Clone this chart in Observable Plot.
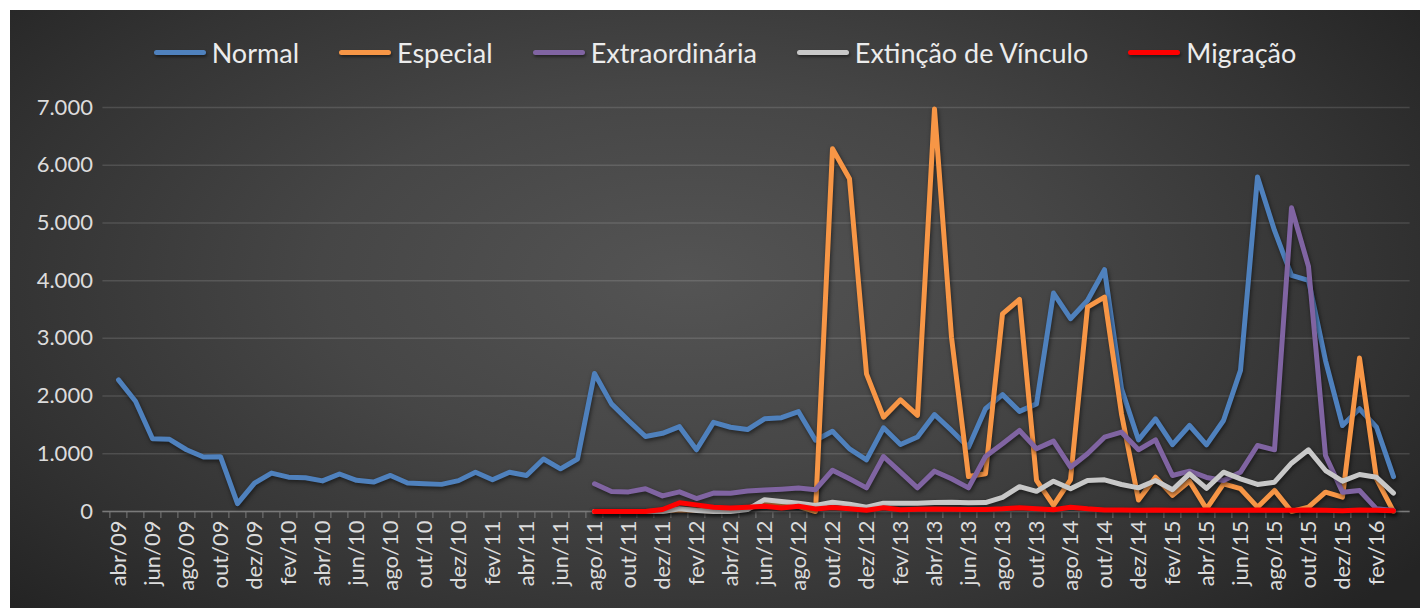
<!DOCTYPE html>
<html>
<head>
<meta charset="utf-8">
<script src="https://cdn.jsdelivr.net/npm/d3@7"></script>
<script src="https://cdn.jsdelivr.net/npm/@observablehq/plot@0.6"></script>
<style>
html,body{margin:0;padding:0;background:#ffffff;}
#chart{position:absolute;left:10px;top:10px;width:1410px;height:598px;overflow:hidden;
  background:radial-gradient(ellipse 65% 80% at 48% 45%, #545454 0%, #464646 40%, #333333 75%, #242424 100%);
  font-family:Lato,"Open Sans",sans-serif;}
#legend{position:absolute;left:20px;top:20px;width:1390px;height:44px;display:flex;justify-content:center;align-items:center;gap:40px;color:#ececec;font-size:27px;}
.item{display:flex;align-items:center;white-space:nowrap;}
.sw{width:52px;height:5px;border-radius:3px;margin-right:6px;box-shadow:1px 2px 3px rgba(0,0,0,0.45);}
#plot{position:absolute;left:0;top:70px;}
#plot g[aria-label="line"]{filter:drop-shadow(1px 2px 2px rgba(0,0,0,0.55));}
</style>
</head>
<body>
<div id="chart">
  <div id="legend"></div>
  <div id="plot"></div>
</div>
<script>
// Categories (month labels); one unlabeled month between out/13 and ago/14
const months = [
  "abr/09","mai/09","jun/09","jul/09","ago/09","set/09","out/09","nov/09","dez/09",
  "jan/10","fev/10","mar/10","abr/10","mai/10","jun/10","jul/10","ago/10","set/10","out/10","nov/10","dez/10",
  "jan/11","fev/11","mar/11","abr/11","mai/11","jun/11","jul/11","ago/11","set/11","out/11","nov/11","dez/11",
  "jan/12","fev/12","mar/12","abr/12","mai/12","jun/12","jul/12","ago/12","set/12","out/12","nov/12","dez/12",
  "jan/13","fev/13","mar/13","abr/13","mai/13","jun/13","jul/13","ago/13","set/13","out/13",
  "jul/14","ago/14","set/14","out/14","nov/14","dez/14",
  "jan/15","fev/15","mar/15","abr/15","mai/15","jun/15","jul/15","ago/15","set/15","out/15","nov/15","dez/15",
  "jan/16","fev/16","mar/16"
];
const xTickLabels = months.filter((d, i) => i % 2 === 0);
const yTicks = [0, 1000, 2000, 3000, 4000, 5000, 6000, 7000];

const seriesNames = ["Normal", "Especial", "Extraordinária", "Extinção de Vínculo", "Migração"];
const seriesColors = ["#4f81bd", "#f79646", "#8064a2", "#c8c8c8", "#ff0000"];

const normal = [2280,1910,1260,1250,1070,945,950,135,490,665,595,585,530,650,540,510,625,495,480,470,535,680,550,680,625,910,740,910,
  2390,1865,1575,1300,1355,1470,1070,1545,1460,1420,1605,1625,1730,1235,1390,1085,895,1450,1160,1290,1680,1405,1115,1780,2025,1735,1865,
  3785,3340,3655,4190,2125,1240,1605,1160,1490,1155,1577,2445,5795,4870,4090,4005,2615,1490,1780,1460,605];
const N28 = Array(28).fill(null);
const especial = N28.concat([0,0,0,0,10,30,20,10,20,60,125,105,90,0,6285,5765,2385,1635,1935,1665,6975,3020,605,655,3425,3675,540,
  105,550,3540,3715,1690,200,595,280,525,45,480,395,75,365,0,75,335,250,2660,565,0]);
const extraordinaria = N28.concat([480,346,340,393,270,340,225,320,315,355,372,387,407,378,715,566,410,953,681,410,699,566,410,953,1173,1404,1086,
  1219,768,1000,1288,1375,1069,1242,624,699,590,537,681,1144,1069,5262,4245,970,335,364,46,17]);
const extincao = N28.concat([0,0,0,0,0,46,17,0,0,35,205,175,145,104,161,127,75,144,144,144,156,161,150,155,243,430,350,
  525,393,537,549,468,410,537,376,653,400,681,566,468,508,837,1069,710,525,641,594,318]);
const migracao = N28.concat([0,0,0,0,35,150,115,75,60,75,90,60,90,45,70,46,20,64,30,40,45,40,35,35,46,64,46,
  30,75,46,25,25,20,25,20,20,25,20,20,25,20,20,25,20,15,25,20,15]);

const allSeries = [normal, especial, extraordinaria, extincao, migracao];
const rows = [];
allSeries.forEach((arr, s) => arr.forEach((v, i) => { if (v !== null) rows.push({month: months[i], series: seriesNames[s], value: v}); }));

// Legend
const legend = document.getElementById("legend");
seriesNames.forEach((n, i) => {
  const it = document.createElement("div"); it.className = "item";
  const sw = document.createElement("span"); sw.className = "sw"; sw.style.background = seriesColors[i];
  const tx = document.createElement("span"); tx.textContent = n;
  it.appendChild(sw); it.appendChild(tx); legend.appendChild(it);
});

const fmt = d3.formatLocale({decimal: ",", thousands: ".", grouping: [3], currency: ["R$", ""]}).format(",d");
const W = 1410, H = 528, mL = 92.4, mR = 10.4, mT = 27, mB = 97;
const step = (W - mL - mR) / months.length;

const lineMarks = seriesNames.map((n, i) => Plot.line(rows.filter(r => r.series === n), {
  x: "month", y: "value", stroke: seriesColors[i], strokeWidth: 5, strokeLinejoin: "round", strokeLinecap: "round"
}));

const chart = Plot.plot({
  width: W, height: H, marginLeft: mL, marginRight: mR, marginTop: mT, marginBottom: mB,
  style: {background: "transparent", color: "#dcdcdc", fontFamily: "Lato, 'Open Sans', sans-serif", overflow: "visible"},
  x: {type: "point", domain: months, padding: 0.5, label: null},
  y: {domain: [0, 7000], label: null},
  marks: [
    Plot.gridY(yTicks, {stroke: "#ffffff", strokeOpacity: 0.13, strokeWidth: 1.5}),
    Plot.axisY(yTicks, {tickSize: 0, tickPadding: 10, tickFormat: fmt, fontSize: 22, label: null}),
    Plot.ruleY([0], {stroke: "#7a7a7a", strokeWidth: 1.5}),
    Plot.axisX(months, {tickSize: 7, tickFormat: () => "", dx: -step / 2, stroke: "#7a7a7a", label: null}),
    Plot.axisX(xTickLabels, {tickSize: 0, tickRotate: -90, tickPadding: 9, fontSize: 22, label: null}),
    ...lineMarks
  ]
});
document.getElementById("plot").appendChild(chart);
</script>
</body>
</html>
